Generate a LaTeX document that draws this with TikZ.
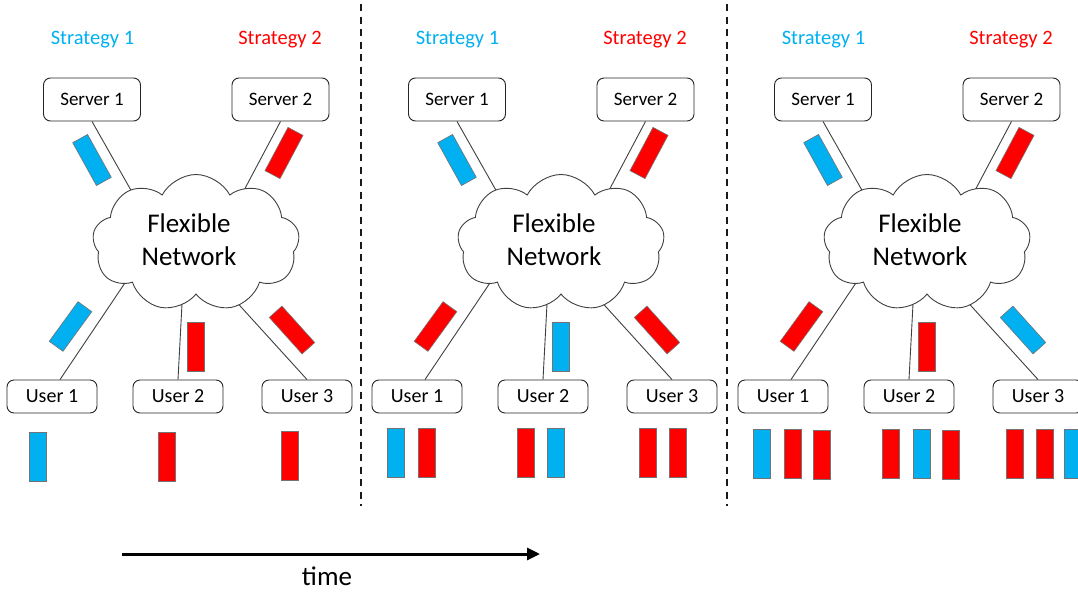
\documentclass[tikz,border=0pt]{standalone}
\usepackage{fontspec}
\setmainfont{Carlito}
\usetikzlibrary{shapes.symbols,arrows.meta}
\definecolor{pcyan}{HTML}{00B0F0}
\definecolor{pred}{HTML}{FF0000}
\tikzset{
  box/.style={draw=black!85, line width=0.9pt, rounded corners=7pt, fill=white, inner sep=0pt},
  srvbox/.style={box, minimum width=97pt, minimum height=43pt, font=\fontsize{19}{22}\selectfont},
  usrbox/.style={box, minimum width=90pt, minimum height=33pt, font=\fontsize{20}{24}\selectfont},
  pkt/.style={draw=black!55, line width=0.6pt, minimum width=17pt, minimum height=49pt, inner sep=0pt},
  link/.style={draw=black!75, line width=0.9pt},
  strat/.style={font=\fontsize{20.5}{24}\selectfont, anchor=base},
  netcloud/.style={cloud, cloud puffs=9, cloud puff arc=125, cloud ignores aspect,
    draw=black!75, line width=0.9pt, fill=white, minimum width=207pt, minimum height=137pt, inner sep=0pt},
  nettext/.style={font=\fontsize{27}{33}\selectfont, align=center},
  divider/.style={draw=black!90, line width=2pt, dash pattern=on 7pt off 5.5pt},
  timearrow/.style={draw=black, line width=3pt, -{Triangle[length=13pt,width=12pt]}},
}
% #1 offset, #2 suffix, #3 sp1 colour, #4 sp2, #5 up1, #6 up2, #7 up3
\newcommand\mypanel[7]{%
  \begin{scope}[xshift=#1pt]
    \node[strat, text=pcyan] (sta#2) at (92.5,44.5) {Strategy 1};
    \node[strat, text=pred] (stb#2) at (280,44.5) {Strategy 2};
    \coordinate (ca#2) at (145,215);
    \coordinate (cb#2) at (241,196);
    \coordinate (cc#2) at (135,268);
    \coordinate (cd#2) at (183,285);
    \coordinate (ce#2) at (212,275);
    \node[srvbox] (sa#2) at (92,99.5) {Server 1};
    \node[srvbox] (sb#2) at (280.5,99.5) {Server 2};
    \node[usrbox] (ua#2) at (52,396.5) {User 1};
    \node[usrbox] (ub#2) at (178,396.5) {User 2};
    \node[usrbox] (uc#2) at (307,396.5) {User 3};
    \draw[link] (sa#2.south) -- (ca#2);
    \draw[link] (sb#2.south) -- (cb#2);
    \draw[link] ([xshift=8pt]ua#2.north) -- (cc#2);
    \draw[link] (ub#2.north) -- (cd#2);
    \draw[link] (uc#2.north) -- (ce#2);
    \node[netcloud] (cl#2) at (196,243) {};
    \node[nettext] (ft#2) at (189,240) {Flexible\\Network};
    \node[pkt, fill=#3, rotate=29] (pa#2) at (92,160) {};
    \node[pkt, fill=#4, rotate=-28] (pb#2) at (284,153) {};
    \node[pkt, fill=#5, rotate=-36] (pc#2) at (70.5,326.5) {};
    \node[pkt, fill=#6] (pd#2) at (195.5,346.5) {};
    \node[pkt, fill=#7, rotate=42] (pe#2) at (292,330) {};
  \end{scope}}
\begin{document}
\begin{tikzpicture}[x=1pt,y=-1pt]
  \useasboundingbox[fill=white] (0,0) rectangle (1078,592);
  \mypanel{0}{A}{pcyan}{pred}{pcyan}{pred}{pred}
  \mypanel{365}{B}{pcyan}{pred}{pred}{pcyan}{pred}
  \mypanel{731}{C}{pcyan}{pred}{pred}{pred}{pcyan}
  % received packets, panel 1
  \node[pkt, fill=pcyan] (qa1) at (37.5,456.5) {};
  \node[pkt, fill=pred] (qb1) at (166.5,456.5) {};
  \node[pkt, fill=pred] (qc1) at (289.5,455.5) {};
  % panel 2
  \begin{scope}[xshift=365pt]
    \node[pkt, fill=pcyan] (ra1) at (31,452.5) {};
    \node[pkt, fill=pred] (ra2) at (61.5,452.5) {};
    \node[pkt, fill=pred] (rb1) at (160.5,452.5) {};
    \node[pkt, fill=pcyan] (rb2) at (190.5,452.5) {};
    \node[pkt, fill=pred] (rc1) at (283,452.5) {};
    \node[pkt, fill=pred] (rc2) at (312.5,452.5) {};
  \end{scope}
  % panel 3
  \begin{scope}[xshift=731pt]
    \node[pkt, fill=pcyan] (sa1) at (31,453.5) {};
    \node[pkt, fill=pred] (sa2) at (62,453.5) {};
    \node[pkt, fill=pred] (sa3) at (90.5,454.5) {};
    \node[pkt, fill=pred] (sb1) at (160,453.5) {};
    \node[pkt, fill=pcyan] (sb2) at (190.5,453.5) {};
    \node[pkt, fill=pred] (sb3) at (219.5,454.5) {};
    \node[pkt, fill=pred] (sc1) at (283.5,453.5) {};
    \node[pkt, fill=pred] (sc2) at (313.5,453.5) {};
    \node[pkt, fill=pcyan] (sc3) at (342,453.5) {};
  \end{scope}
  % dividers
  \coordinate (da) at (360.5,4);
  \coordinate (db) at (360.5,506);
  \coordinate (dc) at (726.5,4);
  \coordinate (dd) at (726.5,506);
  \draw[divider] (da) -- (db);
  \draw[divider] (dc) -- (dd);
  % time arrow
  \coordinate (ta) at (122,554);
  \coordinate (tb) at (540,554);
  \draw[timearrow] (ta) -- (tb);
  \node[font=\fontsize{27}{32}\selectfont, anchor=base] (tl) at (327,585) {time};
\end{tikzpicture}
\end{document}
